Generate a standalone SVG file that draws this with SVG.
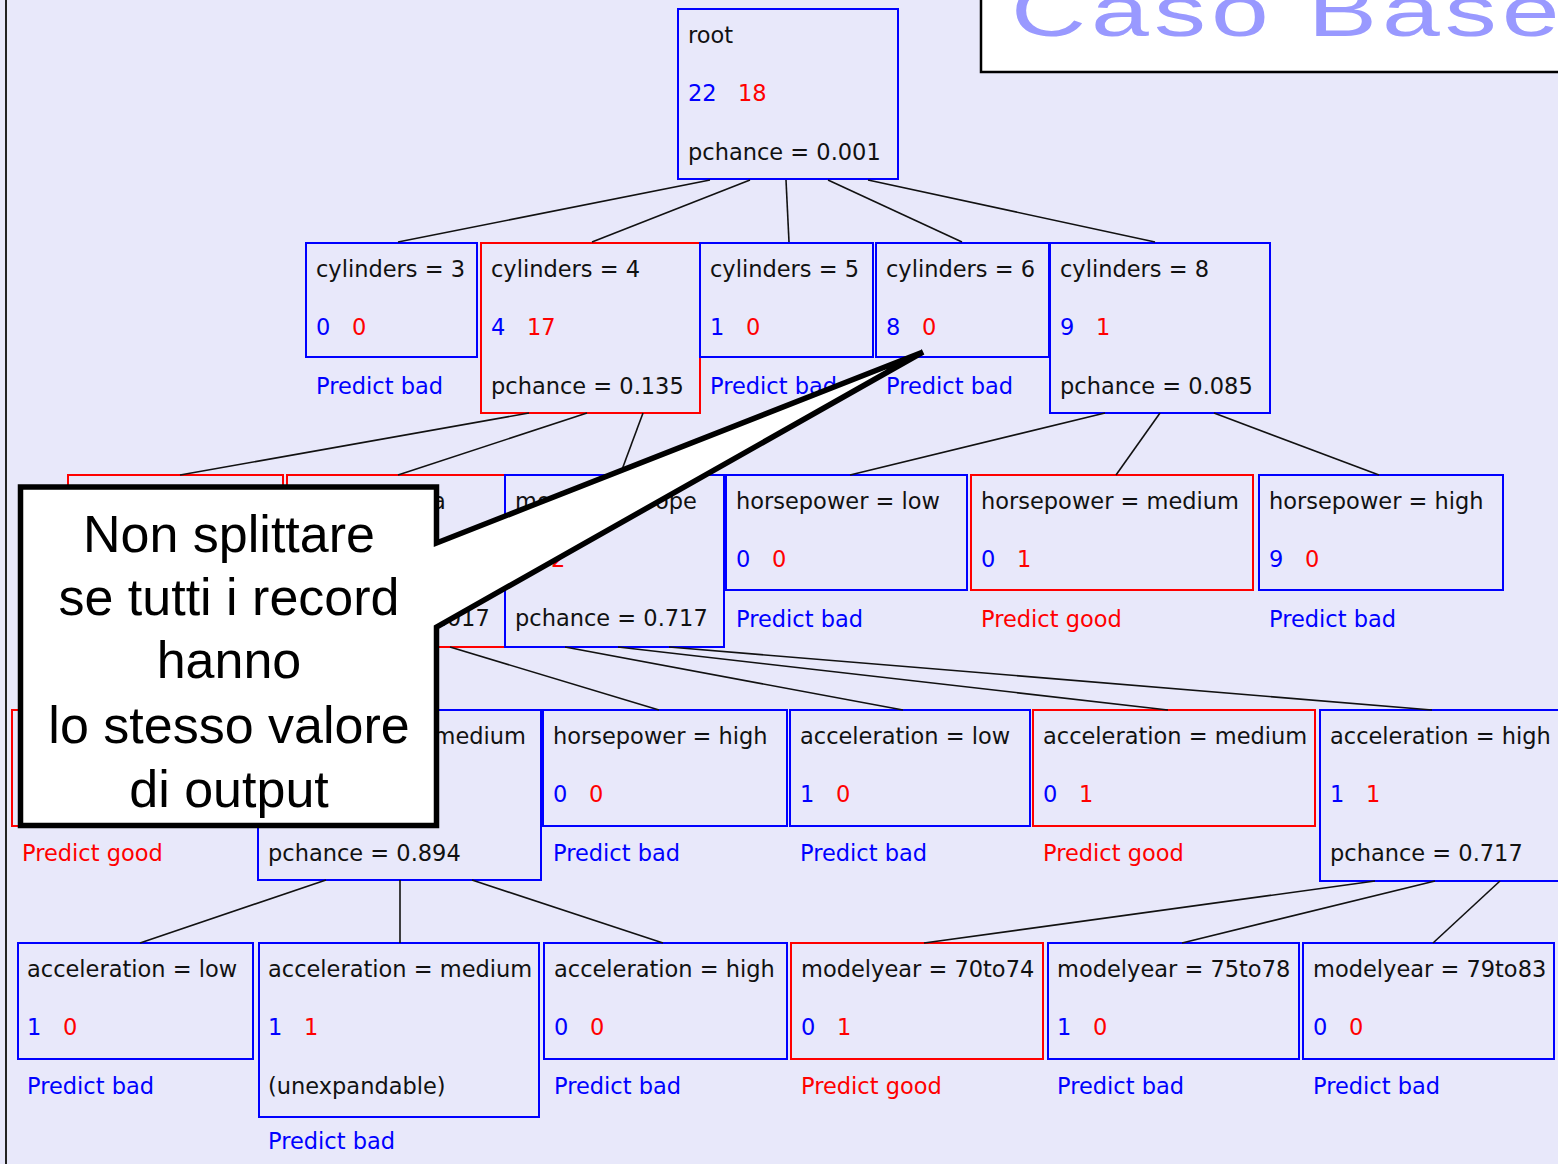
<svg xmlns="http://www.w3.org/2000/svg" width="1558" height="1164" viewBox="0 0 1558 1164">
  <style>
    .nb { fill: none; stroke: #0000FF; stroke-width: 2; }
    .nr { fill: none; stroke: #FF0000; stroke-width: 2; }
    .t { font-family: "DejaVu Sans", "Liberation Sans", sans-serif; font-size: 22.5px; fill: #111; }
    .b { fill: #0000FF; }
    .r { fill: #FF0000; }
    .edge { stroke: #111; stroke-width: 1.6; fill: none; }
    .call { fill: #FFFFFF; stroke: #000; stroke-width: 5.5; stroke-linejoin: miter; }
    .ct { font-family: "Liberation Sans", Arial, sans-serif; font-size: 52px; fill: #000; text-anchor: middle; }
  </style>

  <!-- page background and left margin rule -->
  <rect x="0" y="0" width="1558" height="1164" fill="#E8E8FA"/>
  <line x1="6" y1="0" x2="6" y2="1164" stroke="#222" stroke-width="2"/>

  <!-- title box -->
  <g id="title">
    <rect x="981" y="-4" width="600" height="76" fill="#FFFFFF" stroke="#000" stroke-width="2.5"/>
    <text transform="translate(1011,36) scale(1,0.7)" x="0" y="0" font-family="'Liberation Sans', Arial, sans-serif" font-size="104" letter-spacing="5" fill="#9999FF">Caso Base</text>
  </g>

  <!-- level 1 -->
  <g id="root">
    <rect class="nb" x="678" y="9" width="220" height="170"/>
    <text class="t" x="688" y="43">root</text>
    <text class="t b" x="688" y="101">22</text>
    <text class="t r" x="738" y="101">18</text>
    <text class="t" x="688" y="160">pchance = 0.001</text>
  </g>

  <!-- level 2 -->
  <g id="cyl3">
    <rect class="nb" x="306" y="243" width="171" height="114"/>
    <text class="t" x="316" y="277">cylinders = 3</text>
    <text class="t b" x="316" y="335">0</text>
    <text class="t r" x="352" y="335">0</text>
    <text class="t b" x="316" y="394">Predict bad</text>
  </g>
  <g id="cyl4">
    <rect class="nr" x="481" y="243" width="219" height="170"/>
    <text class="t" x="491" y="277">cylinders = 4</text>
    <text class="t b" x="491" y="335">4</text>
    <text class="t r" x="527" y="335">17</text>
    <text class="t" x="491" y="394">pchance = 0.135</text>
  </g>
  <g id="cyl5">
    <rect class="nb" x="700" y="243" width="173" height="114"/>
    <text class="t" x="710" y="277">cylinders = 5</text>
    <text class="t b" x="710" y="335">1</text>
    <text class="t r" x="746" y="335">0</text>
    <text class="t b" x="710" y="394">Predict bad</text>
  </g>
  <g id="cyl6">
    <rect class="nb" x="876" y="243" width="173" height="114"/>
    <text class="t" x="886" y="277">cylinders = 6</text>
    <text class="t b" x="886" y="335">8</text>
    <text class="t r" x="922" y="335">0</text>
    <text class="t b" x="886" y="394">Predict bad</text>
  </g>
  <g id="cyl8">
    <rect class="nb" x="1050" y="243" width="220" height="170"/>
    <text class="t" x="1060" y="277">cylinders = 8</text>
    <text class="t b" x="1060" y="335">9</text>
    <text class="t r" x="1096" y="335">1</text>
    <text class="t" x="1060" y="394">pchance = 0.085</text>
  </g>

  <!-- level 3 -->
  <g id="cyl4-america">
    <rect class="nr" x="68" y="475" width="215" height="172"/>
  </g>
  <g id="cyl4-asia">
    <rect class="nr" x="287" y="475" width="218" height="172"/>
    <text class="t" x="297" y="509">model = asia</text>
    <text class="t" x="297" y="626">pchance = 0.017</text>
  </g>
  <g id="cyl4-europe">
    <rect class="nb" x="505" y="475" width="219" height="172"/>
    <text class="t" x="515" y="509">model = europe</text>
    <text class="t r" x="551" y="567">2</text>
    <text class="t" x="515" y="626">pchance = 0.717</text>
  </g>
  <g id="cyl8-hp-low">
    <rect class="nb" x="726" y="475" width="241" height="115"/>
    <text class="t" x="736" y="509">horsepower = low</text>
    <text class="t b" x="736" y="567">0</text>
    <text class="t r" x="772" y="567">0</text>
    <text class="t b" x="736" y="627">Predict bad</text>
  </g>
  <g id="cyl8-hp-medium">
    <rect class="nr" x="971" y="475" width="282" height="115"/>
    <text class="t" x="981" y="509">horsepower = medium</text>
    <text class="t b" x="981" y="567">0</text>
    <text class="t r" x="1017" y="567">1</text>
    <text class="t r" x="981" y="627">Predict good</text>
  </g>
  <g id="cyl8-hp-high">
    <rect class="nb" x="1259" y="475" width="244" height="115"/>
    <text class="t" x="1269" y="509">horsepower = high</text>
    <text class="t b" x="1269" y="567">9</text>
    <text class="t r" x="1305" y="567">0</text>
    <text class="t b" x="1269" y="627">Predict bad</text>
  </g>

  <!-- level 4 -->
  <g id="asia-hp-low">
    <rect class="nr" x="12" y="710" width="241" height="116"/>
    <text class="t r" x="22" y="861">Predict good</text>
  </g>
  <g id="asia-hp-medium">
    <rect class="nb" x="258" y="710" width="283" height="170"/>
    <text class="t" x="268" y="744">horsepower = medium</text>
    <text class="t" x="268" y="861">pchance = 0.894</text>
  </g>
  <g id="asia-hp-high">
    <rect class="nb" x="543" y="710" width="244" height="116"/>
    <text class="t" x="553" y="744">horsepower = high</text>
    <text class="t b" x="553" y="802">0</text>
    <text class="t r" x="589" y="802">0</text>
    <text class="t b" x="553" y="861">Predict bad</text>
  </g>
  <g id="europe-acc-low">
    <rect class="nb" x="790" y="710" width="240" height="116"/>
    <text class="t" x="800" y="744">acceleration = low</text>
    <text class="t b" x="800" y="802">1</text>
    <text class="t r" x="836" y="802">0</text>
    <text class="t b" x="800" y="861">Predict bad</text>
  </g>
  <g id="europe-acc-medium">
    <rect class="nr" x="1033" y="710" width="282" height="116"/>
    <text class="t" x="1043" y="744">acceleration = medium</text>
    <text class="t b" x="1043" y="802">0</text>
    <text class="t r" x="1079" y="802">1</text>
    <text class="t r" x="1043" y="861">Predict good</text>
  </g>
  <g id="europe-acc-high">
    <rect class="nb" x="1320" y="710" width="250" height="171"/>
    <text class="t" x="1330" y="744">acceleration = high</text>
    <text class="t b" x="1330" y="802">1</text>
    <text class="t r" x="1366" y="802">1</text>
    <text class="t" x="1330" y="861">pchance = 0.717</text>
  </g>

  <!-- level 5 -->
  <g id="hpmed-acc-low">
    <rect class="nb" x="18" y="943" width="235" height="116"/>
    <text class="t" x="27" y="977">acceleration = low</text>
    <text class="t b" x="27" y="1035">1</text>
    <text class="t r" x="63" y="1035">0</text>
    <text class="t b" x="27" y="1094">Predict bad</text>
  </g>
  <g id="hpmed-acc-medium">
    <rect class="nb" x="259" y="943" width="280" height="174"/>
    <text class="t" x="268" y="977">acceleration = medium</text>
    <text class="t b" x="268" y="1035">1</text>
    <text class="t r" x="304" y="1035">1</text>
    <text class="t" x="268" y="1094">(unexpandable)</text>
    <text class="t b" x="268" y="1149">Predict bad</text>
  </g>
  <g id="hpmed-acc-high">
    <rect class="nb" x="544" y="943" width="243" height="116"/>
    <text class="t" x="554" y="977">acceleration = high</text>
    <text class="t b" x="554" y="1035">0</text>
    <text class="t r" x="590" y="1035">0</text>
    <text class="t b" x="554" y="1094">Predict bad</text>
  </g>
  <g id="acchigh-my-70to74">
    <rect class="nr" x="791" y="943" width="252" height="116"/>
    <text class="t" x="801" y="977">modelyear = 70to74</text>
    <text class="t b" x="801" y="1035">0</text>
    <text class="t r" x="837" y="1035">1</text>
    <text class="t r" x="801" y="1094">Predict good</text>
  </g>
  <g id="acchigh-my-75to78">
    <rect class="nb" x="1048" y="943" width="251" height="116"/>
    <text class="t" x="1057" y="977">modelyear = 75to78</text>
    <text class="t b" x="1057" y="1035">1</text>
    <text class="t r" x="1093" y="1035">0</text>
    <text class="t b" x="1057" y="1094">Predict bad</text>
  </g>
  <g id="acchigh-my-79to83">
    <rect class="nb" x="1303" y="943" width="251" height="116"/>
    <text class="t" x="1313" y="977">modelyear = 79to83</text>
    <text class="t b" x="1313" y="1035">0</text>
    <text class="t r" x="1349" y="1035">0</text>
    <text class="t b" x="1313" y="1094">Predict bad</text>
  </g>

  <!-- tree edges -->
  <g id="edges" class="edge">
    <line x1="710" y1="180" x2="398" y2="242"/>
    <line x1="750" y1="180" x2="592" y2="242"/>
    <line x1="786" y1="180" x2="789" y2="242"/>
    <line x1="828" y1="180" x2="962" y2="242"/>
    <line x1="868" y1="180" x2="1155" y2="242"/>
    <line x1="529" y1="413" x2="180" y2="475"/>
    <line x1="587" y1="413" x2="398" y2="475"/>
    <line x1="643" y1="413" x2="620" y2="475"/>
    <line x1="1105" y1="413" x2="850" y2="475"/>
    <line x1="1160" y1="413" x2="1116" y2="475"/>
    <line x1="1214" y1="413" x2="1379" y2="475"/>
    <line x1="330" y1="647" x2="132" y2="710"/>
    <line x1="395" y1="647" x2="400" y2="710"/>
    <line x1="450" y1="647" x2="659" y2="710"/>
    <line x1="565" y1="647" x2="903" y2="710"/>
    <line x1="618" y1="647" x2="1168" y2="710"/>
    <line x1="669" y1="647" x2="1432" y2="710"/>
    <line x1="326" y1="880" x2="140" y2="943"/>
    <line x1="400" y1="880" x2="400" y2="943"/>
    <line x1="472" y1="880" x2="663" y2="943"/>
    <line x1="1375" y1="881" x2="924" y2="943"/>
    <line x1="1435" y1="881" x2="1182" y2="943"/>
    <line x1="1500" y1="881" x2="1433" y2="943"/>
  </g>

  <!-- speech callout pointing at the cylinders = 6 leaf -->
  <g id="callout">
    <path class="call" d="M20.5,487 H436.5 V543 L923,352 L436.5,627 V825.5 H20.5 Z"/>
    <text class="ct" x="229" y="552">Non splittare</text>
    <text class="ct" x="229" y="615">se tutti i record</text>
    <text class="ct" x="229" y="678">hanno</text>
    <text class="ct" x="229" y="743">lo stesso valore</text>
    <text class="ct" x="229" y="807">di output</text>
  </g>
</svg>
